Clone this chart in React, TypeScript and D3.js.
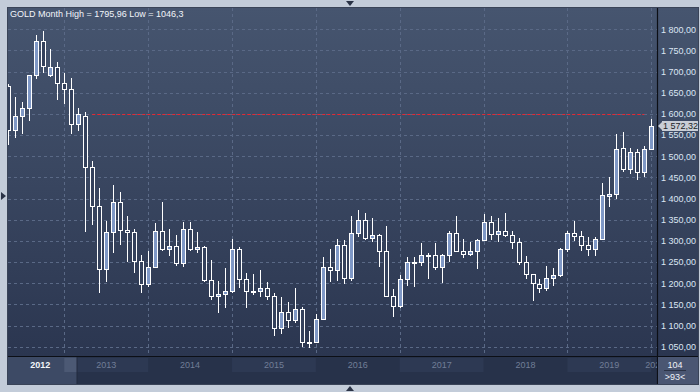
import React from "react";
import * as d3 from "d3";

// ---- data (monthly XAU candles) ----
const months = [
  "2012-05","2012-06","2012-07","2012-08","2012-09","2012-10","2012-11","2012-12",
  "2013-01","2013-02","2013-03","2013-04","2013-05","2013-06","2013-07","2013-08","2013-09","2013-10","2013-11","2013-12",
  "2014-01","2014-02","2014-03","2014-04","2014-05","2014-06","2014-07","2014-08","2014-09","2014-10","2014-11","2014-12",
  "2015-01","2015-02","2015-03","2015-04","2015-05","2015-06","2015-07","2015-08","2015-09","2015-10","2015-11","2015-12",
  "2016-01","2016-02","2016-03","2016-04","2016-05","2016-06","2016-07","2016-08","2016-09","2016-10","2016-11","2016-12",
  "2017-01","2017-02","2017-03","2017-04","2017-05","2017-06","2017-07","2017-08","2017-09","2017-10","2017-11","2017-12",
  "2018-01","2018-02","2018-03","2018-04","2018-05","2018-06","2018-07","2018-08","2018-09","2018-10","2018-11","2018-12",
  "2019-01","2019-02","2019-03","2019-04","2019-05","2019-06","2019-07","2019-08","2019-09","2019-10","2019-11","2019-12",
  "2020-01",
];
const opens = [
  1666,1561,1596,1613,1691,1772,1691,1710,
  1674,1659,1577,1596,1475,1383,1234,1321,1392,1326,1321,1253,
  1198,1238,1324,1281,1288,1248,1328,1280,1285,1208,1170,1175,
  1182,1281,1210,1181,1181,1188,1170,1094,1132,1113,1139,1062,
  1060,1115,1238,1231,1290,1212,1319,1350,1306,1314,1275,1170,
  1145,1210,1250,1251,1267,1267,1238,1267,1319,1277,1269,1275,
  1303,1345,1317,1324,1314,1297,1250,1222,1198,1188,1212,1219,
  1281,1319,1312,1290,1281,1305,1405,1411,1520,1470,1511,1463,
  1516,
];
const highs = [
  1670,1639,1629,1692,1787,1796,1753,1723,
  1697,1684,1615,1604,1488,1424,1347,1433,1415,1359,1327,1267,
  1277,1343,1391,1329,1315,1345,1345,1322,1288,1254,1205,1237,
  1305,1285,1223,1222,1232,1204,1176,1168,1156,1189,1143,1087,
  1127,1263,1282,1304,1303,1358,1374,1367,1353,1317,1336,1186,
  1219,1263,1261,1294,1272,1296,1270,1324,1358,1304,1298,1305,
  1364,1359,1355,1365,1324,1307,1265,1222,1211,1241,1237,1283,
  1324,1346,1324,1310,1309,1437,1452,1552,1557,1519,1516,1525,
  1588,
];
const lows = [
  1527,1544,1552,1584,1683,1697,1688,1633,
  1623,1552,1559,1320,1337,1178,1204,1271,1290,1251,1223,1178,
  1190,1236,1277,1265,1240,1238,1277,1271,1203,1160,1129,1141,
  1176,1188,1141,1173,1167,1160,1075,1080,1095,1107,1050,1046.3,
  1060,1112,1204,1205,1197,1205,1309,1301,1298,1238,1169,1119,
  1141,1194,1192,1240,1211,1232,1200,1249,1275,1259,1264,1233,
  1303,1303,1298,1309,1280,1242,1209,1157,1178,1181,1193,1214,
  1273,1299,1277,1264,1264,1305,1380,1399,1462,1457,1444,1451,
  1516,
];
const closes = [
  1561,1596,1613,1691,1772,1713,1710,1674,
  1659,1577,1599,1475,1383,1234,1321,1392,1326,1321,1253,1198,
  1238,1324,1281,1288,1248,1328,1280,1285,1208,1170,1175,1182,
  1281,1210,1181,1182,1188,1170,1094,1132,1113,1139,1062,1060,
  1115,1238,1231,1290,1212,1319,1350,1306,1314,1275,1170,1145,
  1210,1250,1251,1267,1266,1238,1267,1319,1277,1269,1275,1303,
  1345,1317,1324,1314,1297,1250,1222,1200,1188,1212,1219,1281,
  1319,1312,1290,1281,1305,1409,1411,1518,1470,1511,1463,1516,
  1572.32,
];
const priceTicks = [1050,1100,1150,1200,1250,1300,1350,1400,1450,1500,1550,1600,1650,1700,1750,1800];
const yearLabels = ["2012","2013","2014","2015","2016","2017","2018","2019","2020"];
const titleText = "GOLD Month High = 1795,96 Low = 1046,3";
const levelPrice = 1600;
const levelFrom = "2013-05";
const levelTo = "2019-12";
const lastPrice = 1572.32;
const totalBars = "104";
const visibleBars = ">93<";

// ---- layout ----
const W = 700, H = 392;
const PL = 8, PT = 8, PR = 657, PB = 357, AXB = 384, RIGHT = 698;
const FONT = "'Liberation Sans', Arial, sans-serif";

const monthIndex = (s: string) => {
  const [y, m] = s.split("-").map(Number);
  return (y - 2012) * 12 + (m - 1);
};
const fmt = (v: number) => {
  const [i, d] = v.toFixed(2).split(".");
  return i.replace(/\B(?=(\d{3})+(?!\d))/g, " ") + "," + d;
};

export default function App() {
  const x = d3.scaleLinear().domain([12, 96]).range([64.3, 651.3]);
  const y = d3.scaleLinear().domain([1050, 1800]).range([346.7, 29.3]);
  const px = (v: number) => Math.round(v) + 0.5;

  const candles = months.map((m, i) => ({
    cx: Math.round(x(monthIndex(m))),
    o: opens[i], h: highs[i], l: lows[i], c: closes[i],
  }));

  const yearX = yearLabels.map((yr) => x((+yr - 2012) * 12));
  const yearW = x(24) - x(12);
  const lp = Math.round(y(lastPrice));

  return (
    <svg width={W} height={H} style={{ display: "block", position: "absolute", left: 0, top: 0 }} fontFamily={FONT}>
      <defs>
        <linearGradient id="bg" x1="0" y1="0" x2="0" y2="1">
          <stop offset="0" stopColor="#46556f" />
          <stop offset="1" stopColor="#2b3650" />
        </linearGradient>
        <clipPath id="plot">
          <rect x={PL} y={PT} width={PR - PL} height={PB - PT} />
        </clipPath>
        <clipPath id="taxis">
          <rect x={PL} y={PB} width={PR - PL} height={AXB - PB} />
        </clipPath>
      </defs>

      {/* outer frame */}
      <rect x={0} y={0} width={W} height={H} fill="#c3ccd9" />
      <path d={`M346,1 L354,1 L350,6 Z`} fill="#2a3346" />
      <path d={`M346,391 L354,391 L350,386 Z`} fill="#2a3346" />
      <path d={`M1,192 L1,200 L6,196 Z`} fill="#2a3346" />

      {/* panel */}
      <rect x={PL} y={PT} width={RIGHT - PL} height={PB - PT} fill="url(#bg)" />
      <rect x={PL} y={PB} width={RIGHT - PL} height={AXB - PB} fill="#27324a" />

      {/* grid */}
      <g clipPath="url(#plot)" stroke="#5a6986" strokeWidth={1} strokeDasharray="3,3">
        {priceTicks.map((t) => (
          <line key={"h" + t} x1={PL} x2={PR} y1={px(y(t))} y2={px(y(t))} />
        ))}
        {yearX.slice(1).map((gx, i) => (
          <line key={"v" + i} x1={px(gx)} x2={px(gx)} y1={PT} y2={PB} />
        ))}
      </g>

      {/* level line */}
      <line
        x1={x(monthIndex(levelFrom))}
        x2={x(monthIndex(levelTo))}
        y1={px(y(levelPrice))}
        y2={px(y(levelPrice))}
        stroke="#ea2630"
        strokeWidth={1}
        strokeDasharray="3,2"
      />

      {/* candles */}
      <g clipPath="url(#plot)">
        {candles.map((d, i) => {
          const up = d.c >= d.o;
          const top = Math.round(y(Math.max(d.o, d.c)));
          const bot = Math.round(y(Math.min(d.o, d.c)));
          return (
            <g key={i}>
              <line x1={d.cx + 0.5} x2={d.cx + 0.5} y1={Math.round(y(d.h))} y2={Math.round(y(d.l))} stroke="#ffffff" strokeWidth={1} />
              <rect
                x={d.cx - 1.5}
                y={top + 0.5}
                width={4}
                height={Math.max(bot - top, 1)}
                fill={up ? "#7f98c6" : "#34415c"}
                stroke="#ffffff"
                strokeWidth={1}
              />
            </g>
          );
        })}
      </g>

      {/* title */}
      <text x={10} y={17} fontSize={9} fill="#f2f5fa">{titleText}</text>

      {/* separators */}
      <line x1={PR + 0.5} x2={PR + 0.5} y1={PT} y2={AXB} stroke="#0c0f16" strokeWidth={1.2} />
      <line x1={PL} x2={RIGHT} y1={PB - 0.5} y2={PB - 0.5} stroke="#0c0f16" strokeWidth={1.2} />
      <rect x={PL - 0.5} y={PT - 0.5} width={RIGHT - PL + 1} height={AXB - PT + 1} fill="none" stroke="#3a4458" strokeWidth={1} />

      {/* price axis labels */}
      {priceTicks.map((t) => (
        <text key={"l" + t} x={661} y={y(t) + 3.3} fontSize={9} fill="#dce6f4">
          {fmt(t)}
        </text>
      ))}

      {/* current price tag */}
      <g>
        <rect x={662} y={lp - 5} width={36} height={10} fill="#c9ced6" />
        <path d={`M658,${lp} L662,${lp - 4} L662,${lp + 4} Z`} fill="#c9ced6" />
        <text x={663} y={y(lastPrice) + 3.3} fontSize={9} fill="#1b1f27">{fmt(lastPrice)}</text>
      </g>

      {/* time axis */}
      <g clipPath="url(#taxis)">
        {yearLabels.map((yr, i) =>
          +yr % 2 === 1 ? (
            <rect key={"yb" + yr} x={yearX[i]} y={PB + 1} width={yearW} height={14} fill="#2d3953" />
          ) : null
        )}
        <rect x={PL} y={PB} width={yearX[1] + 12.7 - PL} height={AXB - PB} fill="#3d4a65" />
        <rect x={yearX[1]} y={PB + 1} width={12.7} height={14} fill="#4c5974" />
        <line x1={yearX[1] + 12.7} x2={yearX[1] + 12.7} y1={PB} y2={AXB} stroke="#222b3e" strokeWidth={1} />
        {yearLabels.map((yr, i) => {
          let cx = yearX[i] + yearW / 2;
          if (i === 0) cx = (PL + yearX[1]) / 2 + 4;
          if (i === yearLabels.length - 1) cx = yearX[i] + 4;
          return (
            <text
              key={"yt" + yr}
              x={cx}
              y={PB + 11}
              fontSize={9}
              textAnchor="middle"
              fill={i === 0 ? "#f4f6fa" : "#717e97"}
              fontWeight={i === 0 ? "bold" : "normal"}
            >
              {yr}
            </text>
          );
        })}
      </g>

      {/* bar count box */}
      <rect x={PR + 1} y={PB} width={RIGHT - PR - 1} height={AXB - PB} fill="#4a5672" />
      <text x={675} y={PB + 11} fontSize={9} textAnchor="middle" fill="#eef2f8">{totalBars}</text>
      <line x1={664} x2={686} y1={PB + 13.5} y2={PB + 13.5} stroke="#2a3245" strokeWidth={1} />
      <text x={675} y={PB + 23} fontSize={9} textAnchor="middle" fill="#eef2f8">{visibleBars}</text>
    </svg>
  );
}
